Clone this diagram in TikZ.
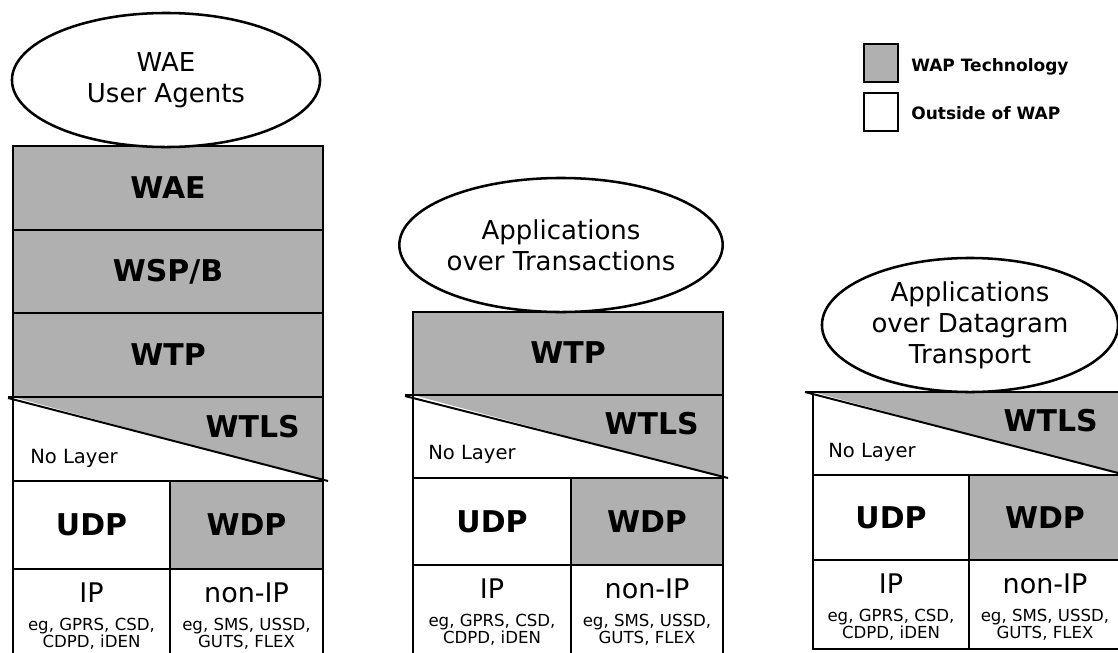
\documentclass[tikz,border=0pt]{standalone}
\usepackage{fontspec}
\setmainfont{DejaVu Sans}
\usetikzlibrary{shapes.geometric}
\definecolor{wapgray}{RGB}{176,176,176}
\tikzset{
  frame/.style={line width=1pt},
  thick frame/.style={line width=1.7pt},
  cut/.style={line width=1.4pt},
  wap/.style={fill=wapgray, frame},
  agent/.style={ellipse, draw, line width=1.8pt, fill=white, inner sep=0pt,
    align=center, minimum height=3.35cm, font=\fontsize{18.5}{22}\selectfont},
  layer/.style={inner sep=0pt, font=\bfseries\fontsize{21.3}{25}\selectfont},
  nolayer/.style={inner sep=0pt, font=\fontsize{13.9}{16}\selectfont},
  bearer/.style={inner sep=0pt, font=\fontsize{19.2}{22}\selectfont},
  bearerex/.style={inner sep=0pt, font=\fontsize{11.8}{13}\selectfont},
  legend/.style={inner sep=0pt, font=\bfseries\fontsize{12.1}{14}\selectfont}
}
\begin{document}
\begin{tikzpicture}[x=0.025cm, y=-0.025cm]
\useasboundingbox (0,0) rectangle (1118,652);
\clip (0,0) rectangle (1118,652);

% ---------------- full stack: WAE user agents ----------------
% Drawing layers WAE, WSP/B, WTP
\draw[wap] (13,146) rectangle (323,230);
\draw[wap] (13,230) rectangle (323,313);
\draw[wap] (13,313) rectangle (323,397);
\node[layer] (waeL) at (168,188) {WAE};
\node[layer] (wspL) at (168,272) {WSP/B};
\node[layer] (wtpL) at (168,355) {WTP};

% Drawing layer WTLS, cut by the diagonal
\fill[white] (13,397) rectangle (323,481);
\fill[wapgray] (13,397) -- (323,397) -- (323,481) -- cycle;
\draw[cut] (8,398) -- (328,481);
\draw[thick frame] (13,397) rectangle (323,481);
\draw[thick frame] (8,397) -- (13,397);
\node[layer, anchor=east] (wtlsL) at (300,427) {WTLS};
\node[nolayer, anchor=base west] (noL) at (30,463) {No Layer};

% Drawing layers UDP and WDP
\draw[frame] (13,481) rectangle (170,569);
\draw[wap] (170,481) rectangle (323,569);
\node[layer] (udpL) at (91.5,525) {UDP};
\node[layer] (wdpL) at (246.5,525) {WDP};

% Drawing bearers
\draw[frame] (13,569) rectangle (170,680);
\draw[frame] (170,569) rectangle (323,680);
\node[bearer, anchor=base] (ipL) at (91.5,602) {IP};
\node[bearerex, anchor=base] (ipLa) at (91.5,630) {eg, GPRS, CSD,};
\node[bearerex, anchor=base] (ipLb) at (91.5,647) {CDPD, iDEN};
\node[bearer, anchor=base] (nonipL) at (246.5,602) {non-IP};
\node[bearerex, anchor=base] (nonipLa) at (246.5,630) {eg, SMS, USSD,};
\node[bearerex, anchor=base] (nonipLb) at (246.5,647) {GUTS, FLEX};

% Drawing user agents on top
\node[agent, minimum width=7.7cm] (uaL) at (166,80) {WAE\\User Agents};

% ---------------- transaction stack ----------------
% Drawing layer WTP
\draw[wap] (413,312) rectangle (723,395);
\node[layer] (wtpM) at (568,353) {WTP};

% Drawing layer WTLS, cut by the diagonal
\fill[white] (413,395) rectangle (723,478);
\fill[wapgray] (413,395) -- (723,395) -- (723,478) -- cycle;
\draw[cut] (405,396) -- (728,478);
\draw[thick frame] (413,395) rectangle (723,478);
\draw[thick frame] (405,395) -- (413,395);
\node[layer, anchor=east] (wtlsM) at (699,424) {WTLS};
\node[nolayer, anchor=base west] (noM) at (428,459) {No Layer};

% Drawing layers UDP and WDP
\draw[frame] (413,478) rectangle (571,565);
\draw[wap] (571,478) rectangle (723,565);
\node[layer] (udpM) at (492,521.5) {UDP};
\node[layer] (wdpM) at (647,521.5) {WDP};

% Drawing bearers
\draw[frame] (413,565) rectangle (571,680);
\draw[frame] (571,565) rectangle (723,680);
\node[bearer, anchor=base] (ipM) at (492,598) {IP};
\node[bearerex, anchor=base] (ipMa) at (492,626) {eg, GPRS, CSD,};
\node[bearerex, anchor=base] (ipMb) at (492,643) {CDPD, iDEN};
\node[bearer, anchor=base] (nonipM) at (647,598) {non-IP};
\node[bearerex, anchor=base] (nonipMa) at (647,626) {eg, SMS, USSD,};
\node[bearerex, anchor=base] (nonipMb) at (647,643) {GUTS, FLEX};

% Drawing applications on top
\node[agent, minimum width=7.55cm] (uaM) at (561,245) {Applications\\over Transactions};

% ---------------- datagram stack ----------------
% Drawing layer WTLS, cut by the diagonal
\fill[white] (813,392) rectangle (1121,475);
\fill[wapgray] (813,392) -- (1121,392) -- (1121,475) -- cycle;
\draw[cut] (805,392) -- (1126,475);
\draw[thick frame] (813,392) rectangle (1121,475);
\draw[thick frame] (805,392) -- (813,392);
\node[layer, anchor=east] (wtlsR) at (1098,421) {WTLS};
\node[nolayer, anchor=base west] (noR) at (828,457) {No Layer};

% Drawing layers UDP and WDP
\draw[frame] (813,475) rectangle (969,560);
\draw[wap] (969,475) rectangle (1121,560);
\node[layer] (udpR) at (891,517.5) {UDP};
\node[layer] (wdpR) at (1045,517.5) {WDP};

% Drawing bearers
\draw[frame] (813,560) rectangle (969,649);
\draw[frame] (969,560) rectangle (1121,649);
\node[bearer, anchor=base] (ipR) at (891,593) {IP};
\node[bearerex, anchor=base] (ipRa) at (891,621) {eg, GPRS, CSD,};
\node[bearerex, anchor=base] (ipRb) at (891,638) {CDPD, iDEN};
\node[bearer, anchor=base] (nonipR) at (1045,593) {non-IP};
\node[bearerex, anchor=base] (nonipRa) at (1045,621) {eg, SMS, USSD,};
\node[bearerex, anchor=base] (nonipRb) at (1045,638) {GUTS, FLEX};

% Drawing applications on top
\node[agent, minimum width=7.4cm] (uaR) at (970,325) {Applications\\over Datagram\\Transport};

% ---------------- legend ----------------
\draw[wap] (864,44) rectangle (898,82);
\draw[frame] (864,93) rectangle (898,131);
\node[legend, anchor=base west] (legWap) at (911,71) {WAP Technology};
\node[legend, anchor=base west] (legOut) at (911,119) {Outside of WAP};
\end{tikzpicture}
\end{document}
